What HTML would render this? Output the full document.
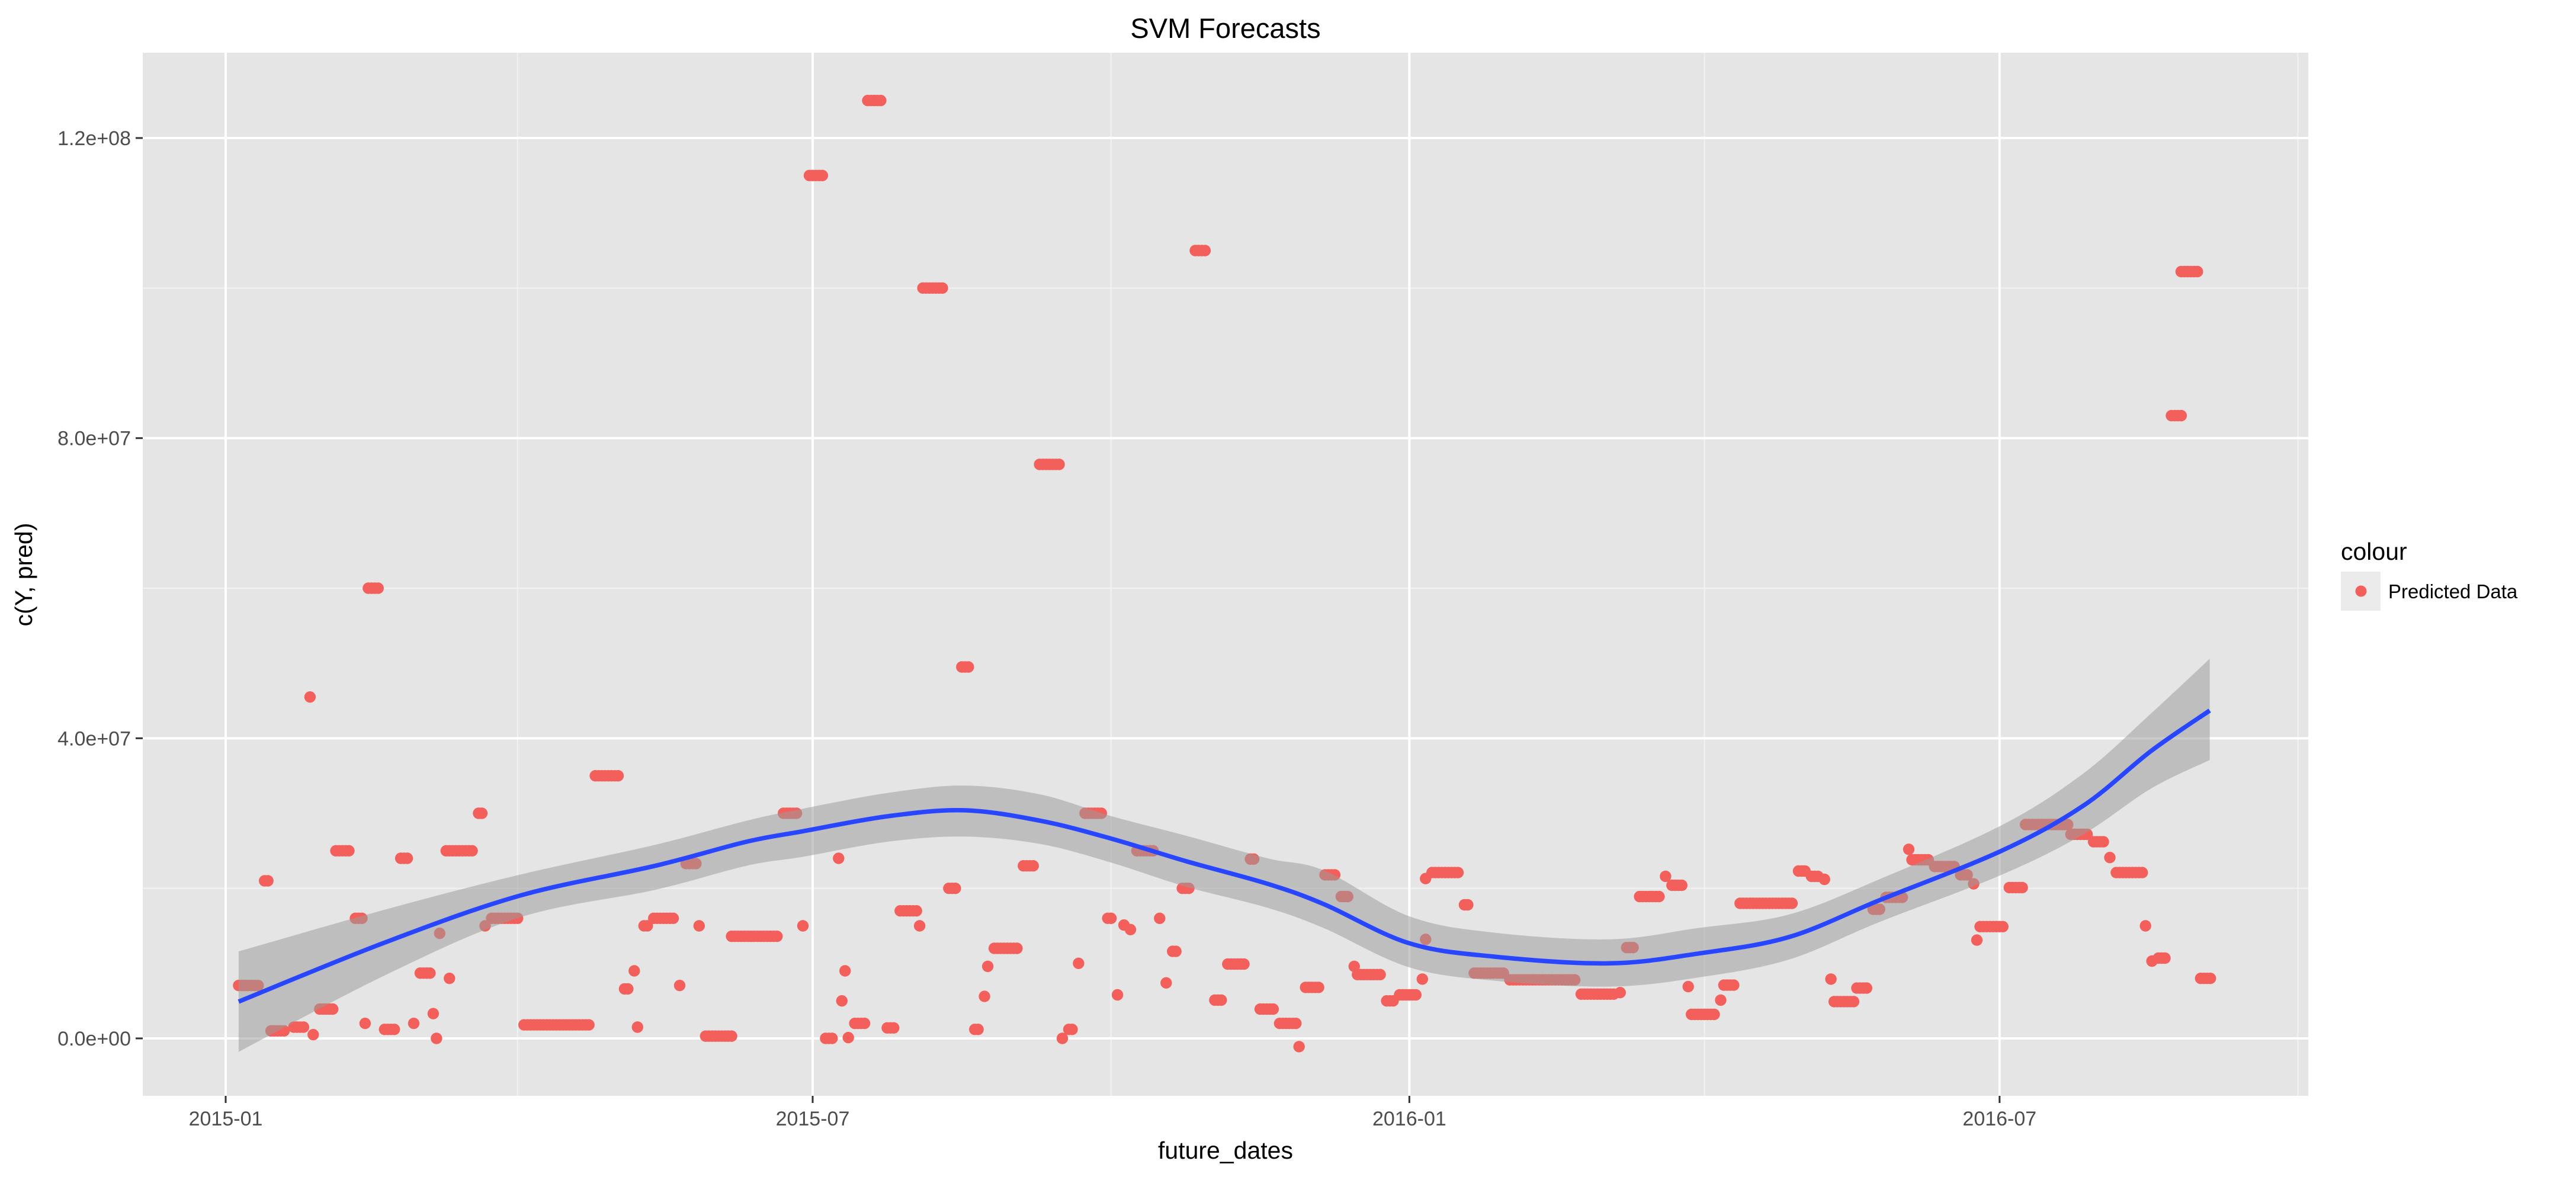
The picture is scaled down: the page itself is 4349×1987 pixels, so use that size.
<!DOCTYPE html>
<html>
<head>
<meta charset="utf-8">
<style>
html,body{margin:0;padding:0;background:#fff;}
svg{display:block;font-family:"Liberation Sans",Arial,sans-serif;}
</style>
</head>
<body>
<svg id="chart" width="4349" height="1987" viewBox="0 0 4349 1987" xmlns="http://www.w3.org/2000/svg">
  <rect x="0" y="0" width="4349" height="1987" fill="#ffffff"/>
  <text x="2069" y="64" text-anchor="middle" font-size="47" fill="#000">SVM Forecasts</text>
  <rect x="241" y="89" width="3656" height="1761" fill="#e5e5e5"/>
  <g id="grid"></g>
  <g id="points"></g>
  <g id="smooth"></g>
  <g id="axes"></g>
  <text x="2069" y="1956" text-anchor="middle" font-size="41" fill="#000">future_dates</text>
  <text x="0" y="0" transform="translate(54,970) rotate(-90)" text-anchor="middle" font-size="41" fill="#000">c(Y, pred)</text>
  <g>
    <text x="3952" y="945" font-size="41" fill="#000">colour</text>
    <rect x="3952" y="965" width="67" height="66" fill="#ebebeb"/>
    <circle cx="3986" cy="998" r="9.5" fill="#F3605C"/>
    <text x="4032" y="1010" font-size="33" fill="#000">Predicted Data</text>
  </g>
</svg>
<script>
// ---- data (values in millions, x in days since 2015-01-01) ----
const segStart = [4,12,26,14,21,27,29,34,40,44,43,49,54,58,60,64,65,66,68,69,78,80,82,92,114,123,126,127,129,132,140,142,146,148,156,172,178,180,185,189,191,190,192,194,198,204,208,214,215,223,227,231,234,235,237,246,251,258,260,263,265,272,275,277,279,281,288,290,292,295,299,305,309,316,319,325,331,333,339,344,348,349,358,362,369,370,370,372,382,385,396,418,430,432,436,444,446,451,452,461,462,467,485,489,493,495,496,503,508,512,519,520,527,535,539,540,541,550,555,569,576,581,583,592,594,596,600,603,609];
const segEnd   = [10,13,26,18,24,27,33,38,42,47,43,52,56,58,63,64,65,66,76,69,79,80,90,112,121,124,126,127,130,138,140,145,146,156,170,176,178,184,187,189,191,190,192,197,202,206,213,214,221,225,229,232,234,235,244,249,257,258,261,263,270,273,275,277,279,286,288,290,293,297,302,307,314,317,323,330,331,337,342,346,348,356,360,367,369,370,370,380,383,394,416,428,430,434,442,444,449,451,459,461,465,483,487,491,493,495,502,506,510,517,519,525,533,537,539,540,548,554,568,574,579,581,591,592,594,598,603,608,612];
const segValue = [7.05,21.0,45.5,1.0,1.5,0.5,3.9,25.0,16.0,60.0,2.0,1.2,24.0,2.0,8.7,3.3,0,14.0,25.0,8.0,30.0,15.0,16.0,1.8,35.0,6.6,9.0,1.5,15.0,16.0,7.05,23.3,15.0,0.3,13.6,30.0,15.0,115.0,0,24.0,9.0,5.0,0.1,2.0,125.0,1.4,17.0,15.0,100.0,20.0,49.5,1.2,5.6,9.6,12.0,23.0,76.5,0,1.2,10.0,30.0,16.0,5.8,15.1,14.5,25.0,16.0,7.4,11.6,20.0,105.0,5.1,9.9,23.9,3.9,2.0,-1.1,6.8,21.8,18.9,9.6,8.5,5.0,5.8,7.9,13.2,21.3,22.1,17.8,8.7,7.8,5.9,6.1,12.1,18.9,21.6,20.4,6.9,3.2,5.1,7.1,18.0,22.3,21.6,21.2,7.9,4.9,6.7,17.2,18.8,25.2,23.8,22.9,21.8,20.6,13.1,14.9,20.1,28.5,27.2,26.2,24.1,22.1,15.0,10.3,10.7,83.0,102.2,8.0];

const fitDay = [4,48.6,90.5,132.4,160.5,177.9,204,227.7,251.3,273.3,296.3,321.3,338.6,364.8,391,426.6,453.9,482,509.9,547.6,572.8,593.7,611.8];
const fitMid = [4.9,12.7,19.0,23.0,26.2,27.6,29.6,30.4,29.0,26.6,23.6,20.6,17.9,12.7,10.9,10.0,11.3,13.5,18.4,25.0,31.0,38.3,43.7];
const fitHi  = [11.6,17.1,21.8,25.8,29.0,30.6,32.7,33.7,32.5,29.6,27.0,24.0,22.4,16.3,14.1,13.2,14.7,16.5,21.2,28.4,35.3,43.3,50.6];
const fitLo  = [-1.8,8.3,16.1,19.8,23.0,24.2,26.2,26.9,25.9,23.4,20.2,17.4,14.7,9.5,7.7,6.9,8.1,10.5,15.5,21.8,27.2,33.3,37.1];

const xTickDates = ["2015-01-01","2015-07-01","2016-01-01","2016-07-01"];
const xTickLabels = ["2015-01","2015-07","2016-01","2016-07"];
const xMinorDates = ["2015-04-01","2015-10-01","2016-04-01","2016-10-01"];
const yTicks = [0,40,80,120];
const yTickLabels = ["0.0e+00","4.0e+07","8.0e+07","1.2e+08"];
const yMinor = [20,60,100];

// ---- scales ----
const NS = "http://www.w3.org/2000/svg";
const PL = 241, PR = 3897, PT = 89, PB = 1850;
const X0 = 381, PXDAY = 5.475;
const Y0 = 1753, Y120 = 233;
function dayOf(s){ return Math.round((Date.parse(s) - Date.parse("2015-01-01")) / 86400000); }
function xs(d){ return X0 + d * PXDAY; }
function ys(v){ return Y0 - v * (Y0 - Y120) / 120; }
function mk(tag, attrs){ const e = document.createElementNS(NS, tag); for (const k in attrs) e.setAttribute(k, attrs[k]); return e; }

// ---- grid ----
const grid = document.getElementById('grid');
yMinor.forEach(v => {
  const l = mk('line', {x1: PL, x2: PR, y1: ys(v), y2: ys(v), stroke: '#f2f2f2', 'stroke-width': 2});
  
  
  grid.appendChild(l);
});
xMinorDates.forEach(d => {
  const x = xs(dayOf(d));
  const l = mk('line', {x1: x, x2: x, y1: PT, y2: PB, stroke: '#f2f2f2', 'stroke-width': 2});
  
  
  grid.appendChild(l);
});
yTicks.forEach(v => {
  const l = mk('line', {x1: PL, x2: PR, y1: ys(v), y2: ys(v), stroke: '#ffffff', 'stroke-width': 4});
  
  
  grid.appendChild(l);
});
xTickDates.forEach(d => {
  const x = xs(dayOf(d));
  const l = mk('line', {x1: x, x2: x, y1: PT, y2: PB, stroke: '#ffffff', 'stroke-width': 4});
  
  
  grid.appendChild(l);
});

// ---- points ----
const pts = document.getElementById('points');
for (let i = 0; i < segStart.length; i++) {
  for (let d = segStart[i]; d <= segEnd[i]; d++) {
    const c = mk('circle', {cx: xs(d).toFixed(1), cy: ys(segValue[i]).toFixed(1), r: 9.7, fill: '#F3605C'});
    
    
    pts.appendChild(c);
  }
}

// ---- smooth ----
function smoothPath(px, py, move){
  let s = (move ? 'M' : 'L') + px[0].toFixed(1) + ',' + py[0].toFixed(1);
  for (let i = 0; i < px.length - 1; i++) {
    const x0 = px[Math.max(i-1,0)], y0 = py[Math.max(i-1,0)];
    const x1 = px[i], y1 = py[i], x2 = px[i+1], y2 = py[i+1];
    const x3 = px[Math.min(i+2,px.length-1)], y3 = py[Math.min(i+2,px.length-1)];
    const c1x = x1 + (x2 - x0)/6, c1y = y1 + (y2 - y0)/6;
    const c2x = x2 - (x3 - x1)/6, c2y = y2 - (y3 - y1)/6;
    s += ' C' + c1x.toFixed(1) + ',' + c1y.toFixed(1) + ' ' + c2x.toFixed(1) + ',' + c2y.toFixed(1) + ' ' + x2.toFixed(1) + ',' + y2.toFixed(1);
  }
  return s;
}
const sm = document.getElementById('smooth');
const fx = fitDay.map(xs);
const hiY = fitHi.map(ys), loY = fitLo.map(ys), midY = fitMid.map(ys);
const rfx = fx.slice().reverse(), rlo = loY.slice().reverse();
const ribbon = mk('path', {d: smoothPath(fx, hiY, true) + ' ' + smoothPath(rfx, rlo, false) + ' Z', fill: '#999999', 'fill-opacity': 0.52});


sm.appendChild(ribbon);
const line = mk('path', {d: smoothPath(fx, midY, true), fill: 'none', stroke: '#2946FF', 'stroke-width': 7.5});


sm.appendChild(line);

// ---- axes ----
const ax = document.getElementById('axes');
yTicks.forEach((v, i) => {
  const y = ys(v);
  const t = mk('line', {x1: PL - 12, x2: PL, y1: y, y2: y, stroke: '#333333', 'stroke-width': 3});
  
  
  ax.appendChild(t);
  const lb = mk('text', {x: PL - 20, y: y + 12, 'text-anchor': 'end', 'font-size': 34, fill: '#4d4d4d'});
  lb.textContent = yTickLabels[i];
  
  
  ax.appendChild(lb);
});
xTickDates.forEach((d, i) => {
  const x = xs(dayOf(d));
  const t = mk('line', {x1: x, x2: x, y1: PB, y2: PB + 12, stroke: '#333333', 'stroke-width': 3});
  
  
  ax.appendChild(t);
  const lb = mk('text', {x: x, y: PB + 50, 'text-anchor': 'middle', 'font-size': 34, fill: '#4d4d4d'});
  lb.textContent = xTickLabels[i];
  
  
  ax.appendChild(lb);
});
</script>
</body>
</html>
